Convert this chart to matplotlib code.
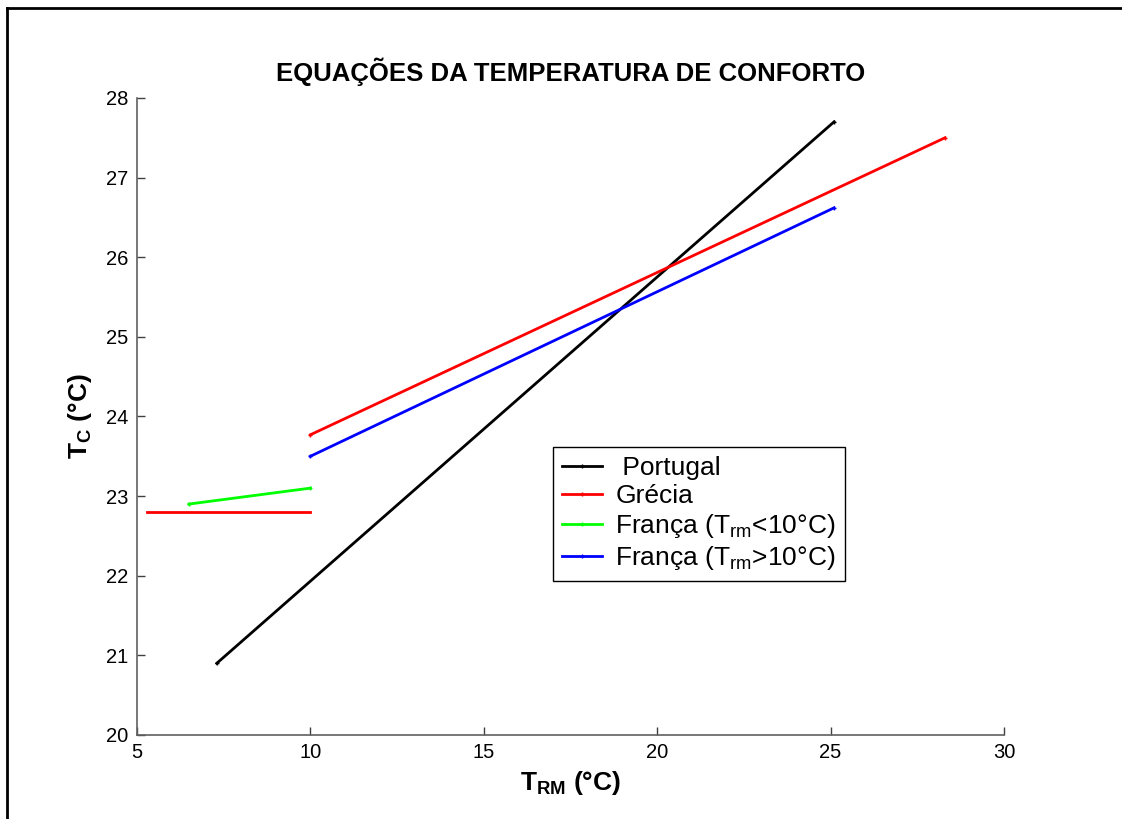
import numpy as np
import matplotlib
matplotlib.use("Agg")
import matplotlib.pyplot as plt
from matplotlib.lines import Line2D

plt.rcParams["font.family"] = ["Liberation Sans", "DejaVu Sans"]
plt.rcParams["mathtext.fontset"] = "custom"
plt.rcParams["mathtext.rm"] = "Liberation Sans"
plt.rcParams["mathtext.it"] = "Liberation Sans:italic"
plt.rcParams["mathtext.bf"] = "Liberation Sans:bold"

# comfort temperature equations
portugal_x = [7.3, 25.1]
portugal_y = [20.9, 27.7]

grecia_low_x = [5.3, 10.0]
grecia_low_y = [22.8, 22.8]
grecia_high_x = [10.0, 28.3]
grecia_high_y = [23.77, 27.5]

franca_low_x = [6.5, 10.0]
franca_low_y = [22.9, 23.1]
franca_high_x = [10.0, 25.1]
franca_high_y = [23.5, 26.62]

xticks = [5, 10, 15, 20, 25, 30]
yticks = [20, 21, 22, 23, 24, 25, 26, 27, 28]


def main():
    fig = plt.figure(figsize=(11.22, 8.19), dpi=100)
    ax = fig.add_axes([0.1221, 0.1026, 0.7727, 0.7778])

    kw = dict(lw=2.0, marker="+", ms=3, mew=1.0)
    ax.plot(portugal_x, portugal_y, color="black", label=" Portugal", **kw)
    ax.plot(grecia_high_x, grecia_high_y, color="#ff0000", label="Grécia", **kw)
    ax.plot(grecia_low_x, grecia_low_y, color="#ff0000", lw=2.0)
    ax.plot(franca_low_x, franca_low_y, color="#00ff00",
            label=r"França (T$_{\mathrm{rm}}$<10°C)", **kw)
    ax.plot(franca_high_x, franca_high_y, color="#0000ff",
            label=r"França (T$_{\mathrm{rm}}$>10°C)", **kw)

    ax.set_xlim(5, 30)
    ax.set_ylim(20, 28)
    ax.set_xticks(xticks)
    ax.set_yticks(yticks)

    for side in ("top", "right"):
        ax.spines[side].set_visible(False)
    for side in ("left", "bottom"):
        ax.spines[side].set_color("#606060")
        ax.spines[side].set_linewidth(1.2)
    ax.tick_params(direction="in", length=6, width=1.0, color="#404040",
                   labelsize=14.5, pad=6)

    ax.set_title("EQUAÇÕES DA TEMPERATURA DE CONFORTO", fontsize=18.5,
                 fontweight="bold", pad=12)
    ax.set_xlabel(r"$\mathbf{T_{RM}}$ (°C)", fontsize=19, fontweight="bold",
                  labelpad=5)
    ax.set_ylabel(r"$\mathbf{T_{C}}$ (°C)", fontsize=19, fontweight="bold",
                  labelpad=9)

    leg = ax.legend(loc="upper left", bbox_to_anchor=(0.48, 0.452),
                    borderaxespad=0, fontsize=19, handlelength=1.5,
                    labelspacing=0.15, handletextpad=0.5, borderpad=0.35,
                    fancybox=False, framealpha=1)
    leg.get_frame().set_edgecolor("black")
    leg.get_frame().set_linewidth(1.0)

    # outer frame (top and left edges visible)
    fig.add_artist(Line2D([0.0065, 1.0], [0.9905, 0.9905], color="black",
                          lw=2, transform=fig.transFigure))
    fig.add_artist(Line2D([0.0065, 0.0065], [0.0, 0.9905], color="black",
                          lw=2, transform=fig.transFigure))

    fig.savefig("out.png", dpi=100)
    plt.close(fig)


if __name__ == "__main__":
    main()
